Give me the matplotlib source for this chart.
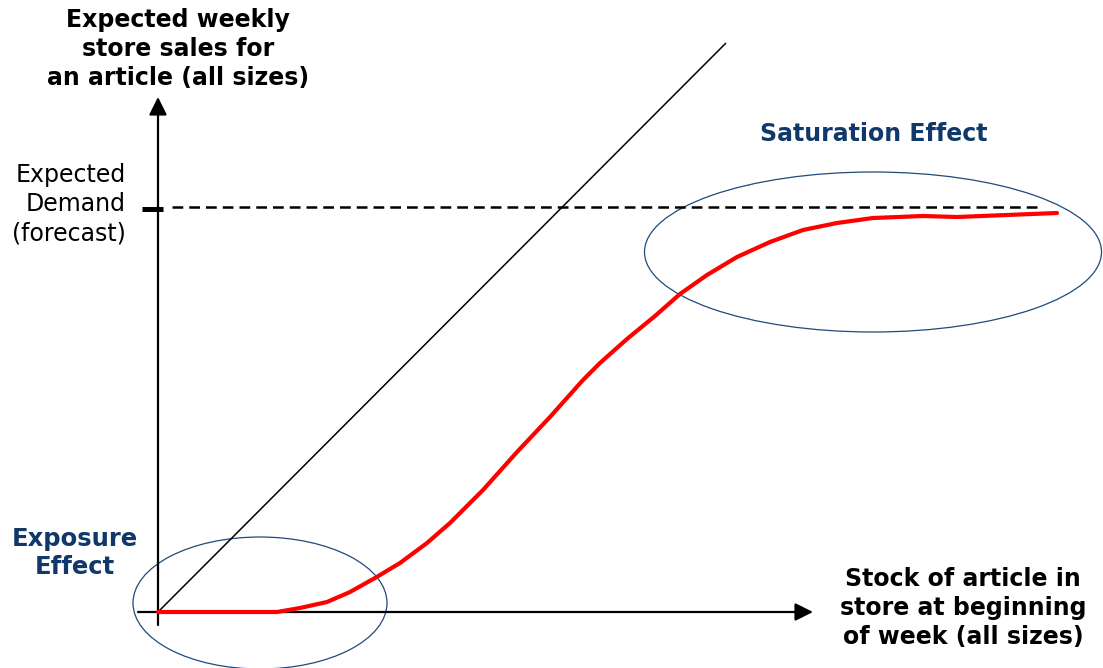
import matplotlib
matplotlib.use("Agg")
import matplotlib.pyplot as plt
from matplotlib.patches import Ellipse

# ---- data (x: stock of article, y: expected weekly sales; arbitrary units) ----
stock = [0, 119, 142, 169, 192, 217, 242, 269, 292, 325, 359, 392, 425, 442,
         469, 497, 522, 549, 579, 612, 645, 679, 715, 765, 799, 849, 899]
sales = [0, 0, 4, 10, 20, 34, 49, 69, 89, 122, 160, 195, 232, 249,
         273, 296, 318, 337, 355, 370, 382, 389, 394, 396, 395, 397, 399]
diag_x = [0, 568]
diag_y = [0, 569]
demand_level = 405
demand_span = [14, 882]

y_title = "Expected weekly\nstore sales for\nan article (all sizes)"
x_title = "Stock of article in\nstore at beginning\nof week (all sizes)"
demand_label = "Expected\nDemand\n(forecast)"
sat_label = "Saturation Effect"
exp_label = "Exposure\nEffect"

BLUE = "#10386a"
ELL = "#1f4a7a"

fig = plt.figure(figsize=(11.03, 6.68), dpi=100)
ax = fig.add_axes([0, 0, 1, 1])
ax.set_xlim(-158, 945)
ax.set_ylim(-56, 612)
ax.axis("off")

# axes arrows
arrow_kw = dict(arrowstyle="-|>,head_length=0.4,head_width=0.2", lw=1.6,
                color="black", mutation_scale=27, shrinkA=0, shrinkB=0)
ax.annotate("", xy=(0, 515), xytext=(0, -13), arrowprops=arrow_kw)
ax.annotate("", xy=(655, 0), xytext=(-20, 0), arrowprops=arrow_kw)

# 45-degree line
ax.plot(diag_x, diag_y, color="black", lw=1.1, solid_capstyle="butt")

# expected demand dashed line and tick
ax.plot(demand_span, [demand_level, demand_level], color="black", lw=1.8,
        dashes=(4.3, 2.4))
ax.plot([-16, 5], [demand_level - 2, demand_level - 2], color="black", lw=3.6,
        solid_capstyle="butt")

# sales curve
ax.plot(stock, sales, color="#ff0000", lw=3.0, solid_joinstyle="round",
        solid_capstyle="round", zorder=5)

# ellipses
ax.add_patch(Ellipse((715, 360), 457, 160, fill=False, edgecolor=ELL, lw=0.9))
ax.add_patch(Ellipse((102, 9), 254, 132, fill=False, edgecolor=ELL, lw=0.9))

# text
ax.text(20, 563, y_title, ha="center", va="center", fontsize=17,
        fontweight="bold", linespacing=1.27)
ax.text(-32, 408, demand_label, ha="right", va="center", fontsize=17,
        multialignment="right", linespacing=1.27)
ax.text(716, 478, sat_label, ha="center", va="center", fontsize=17,
        fontweight="bold", color=BLUE)
ax.text(-83, 59, exp_label, ha="center", va="center", fontsize=17.5,
        fontweight="bold", color=BLUE, linespacing=1.21)
ax.text(805, 4, x_title, ha="center", va="center", fontsize=17,
        fontweight="bold", linespacing=1.27)

fig.savefig("out.png", dpi=100)
